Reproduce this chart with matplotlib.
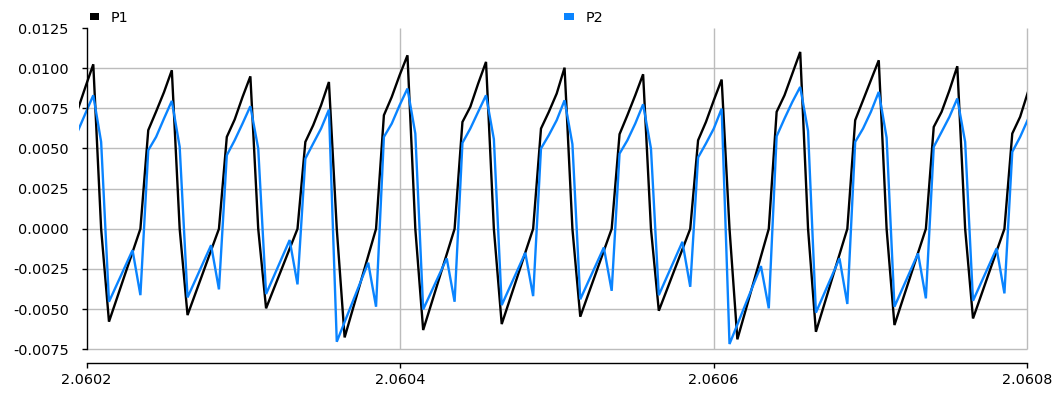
"""Two sampled signals P1 / P2 over a short time window (line chart)."""

import numpy as np
import matplotlib

matplotlib.use("Agg")
import matplotlib.pyplot as plt
from matplotlib.patches import Patch
from matplotlib.ticker import FormatStrFormatter

# Sampling grid (first sample sits just left of 2.0602)
_T_START = 2.0601943
_T_STEP = 5.011e-6

# Series values, one per sample (10 samples per cycle)
p1 = [
    0.00738, 0.00883,
    0.01024, 0.0, -0.00578, -0.00434, -0.00289, -0.00145, 0.0, 0.00614, 0.0073, 0.0085,
    0.00987, 0.0, -0.00537, -0.00403, -0.00269, -0.00134, 0.0, 0.00572, 0.0068, 0.0082,
    0.00949, 0.0, -0.00495, -0.00371, -0.00248, -0.00124, 0.0, 0.00541, 0.00645, 0.00769,
    0.00914, 0.0, -0.00676, -0.00507, -0.00338, -0.00169, 0.0, 0.00707, 0.00821, 0.00956,
    0.01080, 0.0, -0.00630, -0.00473, -0.00315, -0.00158, 0.0, 0.00665, 0.00759, 0.00904,
    0.01039, 0.0, -0.00593, -0.00445, -0.00297, -0.00148, 0.0, 0.00624, 0.00728, 0.00842,
    0.01003, 0.0, -0.00547, -0.00410, -0.00274, -0.00137, 0.0, 0.00589, 0.00707, 0.00831,
    0.00962, 0.0, -0.00510, -0.00383, -0.00255, -0.00128, 0.0, 0.00551, 0.00665, 0.00800,
    0.00929, 0.0, -0.00688, -0.00516, -0.00344, -0.00172, 0.0, 0.00728, 0.00831, 0.00966,
    0.01101, 0.0, -0.00641, -0.00481, -0.00320, -0.00160, 0.0, 0.00676, 0.00800, 0.00925,
    0.01049, 0.0, -0.00599, -0.00449, -0.00300, -0.00150, 0.0, 0.00634, 0.00728, 0.00862,
    0.01012, 0.0, -0.00558, -0.00419, -0.00279, -0.00140, 0.0, 0.00593, 0.00697, 0.00852,
]
p2 = [
    0.00604, 0.00718,
    0.00831, 0.00541, -0.00454, -0.00347, -0.00240, -0.00133, -0.00413, 0.00489, 0.00572, 0.00686,
    0.00796, 0.00510, -0.00427, -0.00319, -0.00210, -0.00102, -0.00377, 0.00458, 0.00551, 0.00655,
    0.00763, 0.00500, -0.00406, -0.00294, -0.00182, -0.00070, -0.00346, 0.00437, 0.00531, 0.00624,
    0.00742, -0.00703, -0.00580, -0.00457, -0.00334, -0.00211, -0.00485, 0.00572, 0.00655, 0.00769,
    0.00873, 0.00593, -0.00502, -0.00396, -0.00290, -0.00184, -0.00454, 0.00535, 0.00624, 0.00728,
    0.00831, 0.00558, -0.00475, -0.00366, -0.00258, -0.00149, -0.00419, 0.00500, 0.00583, 0.00676,
    0.00800, 0.00527, -0.00439, -0.00331, -0.00224, -0.00116, -0.00386, 0.00468, 0.00551, 0.00655,
    0.00775, 0.00500, -0.00413, -0.00302, -0.00192, -0.00081, -0.00361, 0.00444, 0.00531, 0.00624,
    0.00748, -0.00717, -0.00596, -0.00474, -0.00353, -0.00232, -0.00495, 0.00576, 0.00686, 0.00790,
    0.00883, 0.00609, -0.00522, -0.00409, -0.00297, -0.00184, -0.00468, 0.00541, 0.00624, 0.00728,
    0.00852, 0.00568, -0.00485, -0.00374, -0.00264, -0.00153, -0.00433, 0.00510, 0.00603, 0.00697,
    0.00811, 0.00541, -0.00448, -0.00339, -0.00231, -0.00122, -0.00402, 0.00479, 0.00572, 0.00682,
]
series_names = ["P1", "P2"]

x_ticks = [2.0602, 2.0604, 2.0606, 2.0608]
y_ticks = [-0.0075, -0.005, -0.0025, 0.0, 0.0025, 0.005, 0.0075, 0.01, 0.0125]

_COLORS = ["#000000", "#0a84ff"]
_GRID = "#bcbcbc"

# Figure geometry in pixels (1061 x 394 at 100 dpi)
_W, _H = 1061, 394
_PX_LEFT, _PX_RIGHT = 79.0, 1027.0     # drawing area (lines start a bit left of the y axis)
_PX_X0 = 86.5                          # pixel of first x tick
_PX_TOP, _PX_BOTTOM = 28.0, 349.3


def main() -> None:
    plt.rcParams["font.family"] = ["DejaVu Sans"]
    plt.rcParams["font.size"] = 10.4

    t = _T_START + _T_STEP * np.arange(len(p1))

    fig = plt.figure(figsize=(_W / 100, _H / 100), dpi=100)
    ax = fig.add_axes([
        _PX_LEFT / _W,
        1 - _PX_BOTTOM / _H,
        (_PX_RIGHT - _PX_LEFT) / _W,
        (_PX_BOTTOM - _PX_TOP) / _H,
    ])

    # x limits: first tick lands on _PX_X0, last tick on the right edge
    px_per_unit = (_PX_RIGHT - _PX_X0) / (x_ticks[-1] - x_ticks[0])
    ax.set_xlim(x_ticks[0] - (_PX_X0 - _PX_LEFT) / px_per_unit, x_ticks[-1])
    ax.set_ylim(y_ticks[0], y_ticks[-1])

    # grid only inside the axis frame, no line at the top tick
    ax.hlines(y_ticks[:-1], x_ticks[0], x_ticks[-1], colors=_GRID, lw=1.0,
              zorder=0, clip_on=False)
    ax.vlines(x_ticks[1:], y_ticks[0], y_ticks[-1], colors=_GRID, lw=1.0,
              zorder=0, clip_on=False)

    for vals, name, color in zip([p1, p2], series_names, _COLORS):
        ax.plot(t, vals, color=color, lw=1.7, label=name, zorder=2,
                solid_joinstyle="miter")

    for side in ("top", "right"):
        ax.spines[side].set_visible(False)
    ax.spines["left"].set_position(("data", x_ticks[0]))
    ax.spines["left"].set_linewidth(1.0)
    ax.spines["bottom"].set_position(("outward", 10))
    ax.spines["bottom"].set_bounds(x_ticks[0], x_ticks[-1])
    ax.spines["bottom"].set_linewidth(1.0)

    ax.set_xticks(x_ticks)
    ax.set_yticks(y_ticks)
    ax.xaxis.set_major_formatter(FormatStrFormatter("%.4f"))
    ax.yaxis.set_major_formatter(FormatStrFormatter("%.4f"))
    ax.tick_params(axis="both", direction="out", length=3.8, width=1.0, colors="black")
    ax.tick_params(axis="y", pad=9)
    ax.tick_params(axis="x", pad=3)

    handles = [Patch(facecolor=c, edgecolor="none") for c in _COLORS]
    fig.legend(
        handles, series_names,
        loc="lower left",
        bbox_to_anchor=(90 / _W, 1 - 24.5 / _H, (603 - 90) / _W, 0.01),
        mode="expand", ncol=2, frameon=False,
        borderpad=0, borderaxespad=0,
        handlelength=0.64, handleheight=0.32, handletextpad=0.8,
    )

    fig.savefig("out.png", dpi=100)


if __name__ == "__main__":
    main()
